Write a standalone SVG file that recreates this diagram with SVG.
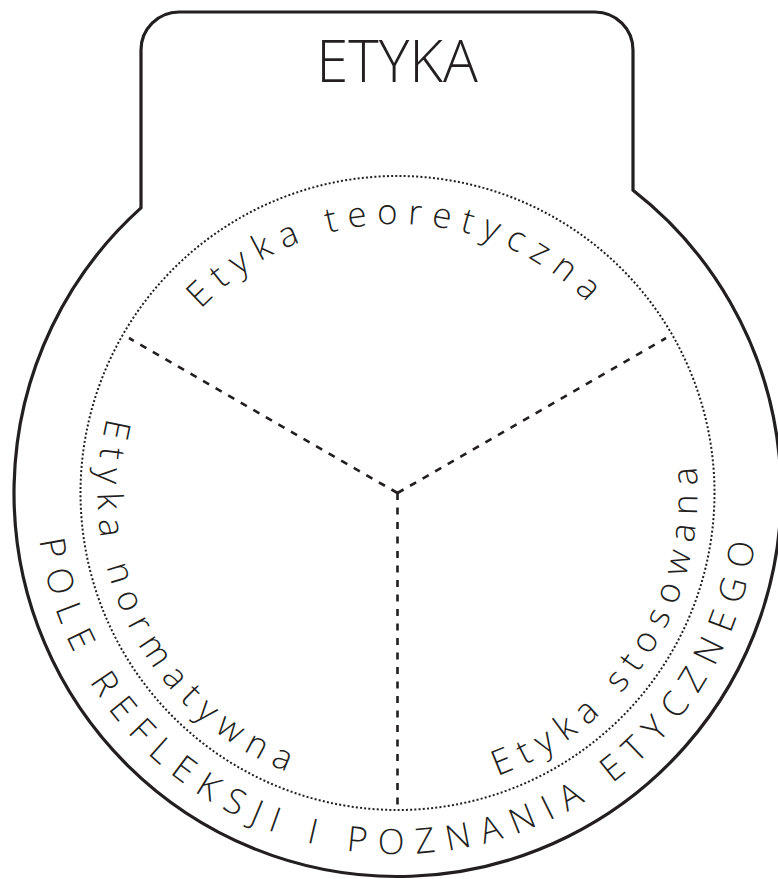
<svg xmlns="http://www.w3.org/2000/svg" xmlns:xlink="http://www.w3.org/1999/xlink" width="778" height="879" viewBox="0 0 778 879">
<style>
  .outline { fill: #ffffff; stroke: #231f20; stroke-width: 3.2; stroke-linejoin: miter; }
  .dotted { fill: none; stroke: #231f20; stroke-width: 2; stroke-dasharray: 2 2.2; }
  .dash { fill: none; stroke: #231f20; stroke-width: 2.6; stroke-dasharray: 7 7.5; }
  .title { font-family: "Open Sans", "Liberation Sans", sans-serif; font-weight: 300; font-size: 58px; fill: #231f20; }
  .inner { font-family: "Open Sans", "Liberation Sans", sans-serif; font-weight: 350; font-size: 35px; fill: #231f20; letter-spacing: 9.7px; }
  .outer { font-family: "Open Sans", "Liberation Sans", sans-serif; font-weight: 350; font-size: 35px; fill: #231f20; letter-spacing: 11.5px; }
</style>
<defs>
  <path id="arcTop" d="M 128.5 493 A 269 269 0 0 1 666.5 493"/>
  <path id="arcInnerCCW" d="M 397.5 193 A 300 300 0 0 0 397.5 793 A 300 300 0 0 0 397.5 193"/>
  <path id="arcOuterCCW" d="M 397.5 132 A 361 361 0 0 0 397.5 854 A 361 361 0 0 0 397.5 132"/>
</defs>

<g id="outline">
  <path class="outline" d="M 141 207.9 L 141 50 A 38 38 0 0 1 179 12 L 595 12 A 38 38 0 0 1 633 50 L 633 190.3 A 383.5 383.5 0 1 1 141 207.9 Z"/>
</g>

<g id="title">
  <text class="title" x="397" y="81.5" text-anchor="middle">ETYKA</text>
</g>

<g id="field-circle">
  <circle class="dotted" cx="397.5" cy="493" r="317"/>
</g>

<g id="connectors">
  <line class="dash" x1="397.5" y1="493" x2="129" y2="338"/>
  <line class="dash" x1="397.5" y1="493" x2="666" y2="338"/>
  <line class="dash" x1="397.5" y1="493" x2="397.5" y2="806"/>
</g>

<g id="sector-teoretyczna">
  <text class="inner"><textPath xlink:href="#arcTop" href="#arcTop" startOffset="201.9">Etyka teoretyczna</textPath></text>
</g>

<g id="sector-normatywna">
  <text class="inner"><textPath xlink:href="#arcInnerCCW" href="#arcInnerCCW" startOffset="395">Etyka normatywna</textPath></text>
</g>

<g id="sector-stosowana">
  <text class="inner"><textPath xlink:href="#arcInnerCCW" href="#arcInnerCCW" startOffset="1043.7">Etyka stosowana</textPath></text>
</g>

<g id="outer-label">
  <text class="outer"><textPath xlink:href="#arcOuterCCW" href="#arcOuterCCW" startOffset="613.9">POLE REFLEKSJI I POZNANIA ETYCZNEGO</textPath></text>
</g>
</svg>
